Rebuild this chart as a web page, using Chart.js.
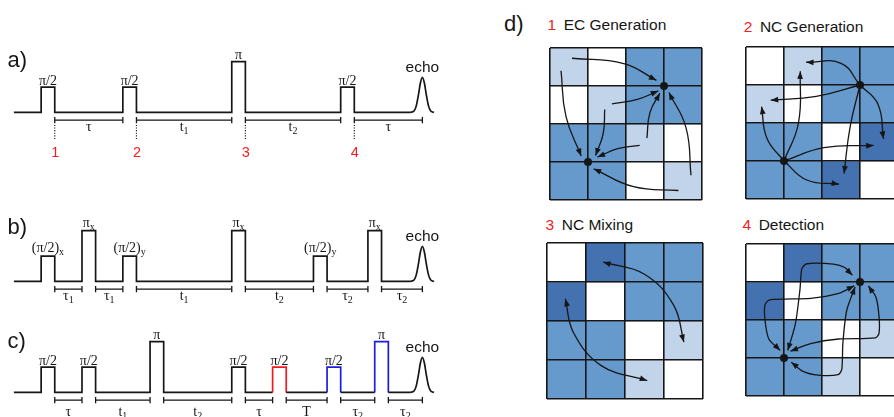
<!DOCTYPE html>
<html>
<head>
<meta charset="utf-8">
<script src="https://cdn.jsdelivr.net/npm/chart.js@4.4.0/dist/chart.umd.min.js"></script>
<style>
html, body { margin: 0; padding: 0; background: #fff; width: 894px; height: 417px; overflow: hidden; position: relative; }
canvas { position: absolute; }
.tag { position: absolute; font: 22px "Liberation Sans", Arial, sans-serif; line-height: 22px; color: #161616; white-space: nowrap; }
.ttl { position: absolute; font: 15.5px "Liberation Sans", Arial, sans-serif; line-height: 15.5px; color: #161616; white-space: nowrap; }
.ttl b { font-weight: normal; color: #ee2222; margin-right: 7.5px; }
</style>
</head>
<body>
<canvas id="seqA" width="470" height="140" style="left:0;top:30px"></canvas>
<canvas id="seqB" width="470" height="140" style="left:0;top:199px"></canvas>
<canvas id="seqC" width="470" height="140" style="left:0;top:310px"></canvas>
<canvas id="gridEC" width="160" height="160" style="left:546px;top:44px"></canvas>
<canvas id="gridNC" width="160" height="160" style="left:742px;top:43px"></canvas>
<canvas id="gridMix" width="160" height="160" style="left:545px;top:241px"></canvas>
<canvas id="gridDet" width="160" height="160" style="left:742px;top:240px"></canvas>

<div class="tag" style="left:7.5px;top:48.9px">a)</div>
<div class="tag" style="left:7.5px;top:216.4px">b)</div>
<div class="tag" style="left:7.5px;top:329.7px">c)</div>
<div class="tag" style="left:504px;top:13.1px">d)</div>
<div class="ttl" style="left:547.6px;top:17.4px"><b>1</b>EC Generation</div>
<div class="ttl" style="left:743.8px;top:19.4px"><b>2</b>NC Generation</div>
<div class="ttl" style="left:545.6px;top:216.9px"><b>3</b>NC Mixing</div>
<div class="ttl" style="left:742.5px;top:216.9px"><b>4</b>Detection</div>

<script>
// Pulse sequences: times in units of one π/2 pulse length, amplitude π/2 = 1
const pulseWidth = 1;
const traceStart = 0;

const pulseStartA = [2, 8, 16, 24];
const pulseAmpA = [1, 1, 2, 1];
const pulseTextA = ['π/2', 'π/2', 'π', 'π/2'];
const delaysA = [[3, 8], [9, 16], [17, 24], [25, 30]];
const delayTextA = ['τ', 't_1', 't_2', 'τ'];
const markersA = [3, 9, 17, 25];
const markerTextA = ['1', '2', '3', '4'];

const pulseStartB = [2, 5, 8, 16, 22, 26];
const pulseAmpB = [1, 2, 1, 2, 1, 2];
const pulseTextB = ['(π/2)_x', 'π_x', '(π/2)_y', 'π_x', '(π/2)_y', 'π_x'];
const delaysB = [[3, 5], [6, 8], [9, 16], [17, 22], [23, 26], [27, 30]];
const delayTextB = ['τ_1', 'τ_1', 't_1', 't_2', 'τ_2', 'τ_2'];

const pulseStartC = [2, 5, 10, 16, 19, 23, 26.5];
const pulseAmpC = [1, 1, 2, 1, 1, 1, 2];
const pulseInkC = ['k', 'k', 'k', 'k', 'r', 'b', 'b'];
const pulseTextC = ['π/2', 'π/2', 'π', 'π/2', 'π/2', 'π/2', 'π'];
const delaysC = [[3, 5], [6, 10], [11, 16], [17, 19], [20, 23], [24, 26.5], [27.5, 30]];
const delayTextC = ['τ', 't_1', 't_2', 'τ', 'T', 'τ_2', 'τ_2'];

// echo envelope
const echoX = [29.1, 29.4, 29.55, 29.7, 29.85, 30, 30.15, 30.3, 30.45, 30.6, 30.85];
const echoY = [0, 0.07, 0.26, 0.66, 1.15, 1.38, 1.15, 0.66, 0.26, 0.07, 0];

// Lattice cells, rows top to bottom: 0 empty, 1 light, 2 medium, 3 dark
const gridCols = ['c1', 'c2', 'c3', 'c4'];
const cellsEC = [[1, 0, 2, 2], [0, 1, 2, 2], [2, 2, 1, 0], [2, 2, 0, 1]];
const cellsNC = [[0, 1, 2, 2], [1, 0, 2, 2], [2, 2, 0, 3], [2, 2, 3, 0]];
const cellsMix = [[0, 3, 2, 2], [3, 0, 2, 2], [2, 2, 0, 1], [2, 2, 1, 0]];
const cellsDet = [[0, 3, 2, 2], [3, 0, 2, 2], [2, 2, 0, 1], [2, 2, 1, 0]];

// lattice sites (column, row) and transfer paths
const sites = [[3, 1], [1, 3]];
const arrowsEC = [
  [[0.58, 0.27], [1.94, 0.41], [2.8, 0.85]],
  [[0.29, 0.6], [0.42, 1.8], [0.82, 2.84]],
  [[1.63, 1.47], [2.3, 1.35], [2.85, 1.13]],
  [[2.55, 2.37], [2.63, 1.7], [2.89, 1.19]],
  [[3.71, 3.35], [3.58, 2.1], [3.13, 1.17]],
  [[1.44, 1.62], [1.4, 2.25], [1.2, 2.83]],
  [[2.36, 2.56], [1.78, 2.65], [1.25, 2.87]],
  [[3.38, 3.75], [2.2, 3.65], [1.15, 3.18]]
];
const arrowsNC = [
  [[3, 1], [2.5, 0.43], [1.58, 0.4]],
  [[3, 1], [1.85, 1.3], [0.65, 1.4]],
  [[3, 1], [2.74, 2.1], [2.58, 3.33]],
  [[3, 1], [3.47, 1.5], [3.62, 2.42]],
  [[1, 3], [0.55, 2.4], [0.41, 1.57]],
  [[1, 3], [1.38, 2.0], [1.43, 0.64]],
  [[1, 3], [2.05, 2.65], [3.36, 2.59]],
  [[1, 3], [1.6, 3.5], [2.45, 3.61]]
];
const arrowsMix = [
  [[1.44, 0.49], [2.5, 0.8], [3.25, 1.6], [3.51, 2.54]],
  [[0.47, 1.43], [0.68, 2.3], [1.4, 3.15], [2.57, 3.53]]
];
const arrowsDet = [
  [[1.1, 2.8], [1.3, 2.1], [1.42, 1.2], [1.47, 0.65], [1.6, 0.52], [2.3, 0.53], [2.6, 0.62], [2.8, 0.82]],
  [[0.9, 2.8], [0.6, 2.5], [0.5, 2.0], [0.5, 1.6], [0.62, 1.47], [1.7, 1.43], [2.44, 1.3], [2.85, 1.1]],
  [[3.22, 1.1], [3.42, 1.4], [3.5, 1.9], [3.5, 2.35], [3.4, 2.47], [2.44, 2.5], [1.7, 2.62], [1.17, 2.82]],
  [[2.87, 1.13], [2.65, 1.75], [2.55, 2.6], [2.52, 3.3], [2.42, 3.44], [1.9, 3.45], [1.5, 3.35], [1.19, 3.11]]
];

const ink = '#161616';
const pulseColors = { k: ink, r: '#ee1c1c', b: '#1c1ce0' };
const shades = ['#ffffff', '#c1d4ea', '#6699cc', '#4472b0'];
const serif = '"Liberation Serif", "Times New Roman", serif';
const sans = '"Liberation Sans", Arial, sans-serif';

// text with an optional subscript after "_", centred on cx
function drawLabel(ctx, text, cx, baseY, size) {
  const [main, sub] = text.split('_');
  ctx.font = size + 'px ' + serif;
  const w1 = ctx.measureText(main).width;
  let w2 = 0;
  if (sub) {
    ctx.font = Math.round(size * 0.7) + 'px ' + serif;
    w2 = ctx.measureText(sub).width;
  }
  const left = cx - (w1 + w2) / 2;
  ctx.textAlign = 'left';
  ctx.font = size + 'px ' + serif;
  ctx.fillText(main, left, baseY);
  if (sub) {
    ctx.font = Math.round(size * 0.7) + 'px ' + serif;
    ctx.fillText(sub, left + w1, baseY + 3);
  }
}

function drawSequence(id, seq) {
  const inks = seq.inks || seq.starts.map(() => 'k');
  const trace = [{ x: traceStart, y: 0 }];
  const segInk = [];
  seq.starts.forEach((s, i) => {
    const c = pulseColors[inks[i]];
    trace.push({ x: s, y: 0 }); segInk.push(ink);
    trace.push({ x: s, y: seq.amps[i] }); segInk.push(c);
    trace.push({ x: s + pulseWidth, y: seq.amps[i] }); segInk.push(c);
    trace.push({ x: s + pulseWidth, y: 0 }); segInk.push(c);
  });
  trace.push({ x: echoX[0], y: 0 }); segInk.push(ink);

  const dimY = -0.3;
  const dims = [];
  seq.delays.forEach(([a, b]) => {
    dims.push({ x: a, y: dimY }, { x: b, y: dimY }, { x: b + 0.5, y: null });
  });

  const datasets = [
    {
      data: trace, borderColor: ink, borderWidth: 1.7, pointRadius: 0, tension: 0,
      borderJoinStyle: 'miter', segment: { borderColor: ctx => segInk[ctx.p0DataIndex] }
    },
    {
      data: echoX.map((x, i) => ({ x, y: echoY[i] })), borderColor: ink, borderWidth: 1.7,
      pointRadius: 0, cubicInterpolationMode: 'monotone'
    },
    {
      data: dims, borderColor: ink, borderWidth: 1.3, spanGaps: false,
      pointStyle: 'line', pointRotation: 90, pointRadius: 3.2,
      pointBorderColor: ink, pointBorderWidth: 1.3
    }
  ];
  if (seq.markers) {
    const dotted = [];
    seq.markers.forEach(m => dotted.push({ x: m, y: -0.49 }, { x: m, y: -1.07 }, { x: m + 0.5, y: null }));
    datasets.push({
      data: dotted, borderColor: ink, borderWidth: 1.2, borderDash: [1.1, 1.5],
      pointRadius: 0, spanGaps: false
    });
  }

  const labels = {
    id: 'seqLabels',
    afterDatasetsDraw(chart) {
      const { ctx, scales: { x, y } } = chart;
      const base = y.getPixelForValue(0);
      ctx.save();
      ctx.textBaseline = 'alphabetic';
      seq.starts.forEach((s, i) => {
        ctx.fillStyle = ink;
        drawLabel(ctx, seq.pulseText[i], x.getPixelForValue(s + pulseWidth / 2),
          y.getPixelForValue(seq.amps[i]) - seq.gap, 14);
      });
      seq.delays.forEach(([a, b], i) => {
        drawLabel(ctx, seq.delayText[i], (x.getPixelForValue(a) + x.getPixelForValue(b)) / 2,
          base + seq.drop, 14);
      });
      const peak = echoY.indexOf(Math.max(...echoY));
      ctx.font = '15.5px ' + sans;
      ctx.textAlign = 'center';
      ctx.fillText('echo', x.getPixelForValue(echoX[peak]), y.getPixelForValue(echoY[peak]) - 5);
      if (seq.markers) {
        ctx.fillStyle = '#f01e1e';
        ctx.font = '14.5px ' + sans;
        seq.markers.forEach((m, i) => {
          ctx.fillText(seq.markerText[i], x.getPixelForValue(m) + 0.5, y.getPixelForValue(-1.75));
        });
      }
      ctx.restore();
    }
  };

  new Chart(document.getElementById(id), {
    type: 'line',
    data: { datasets },
    options: {
      responsive: false, animation: false, events: [],
      layout: { padding: 0 },
      plugins: { legend: { display: false }, tooltip: { enabled: false } },
      scales: {
        x: { type: 'linear', display: false, min: -0.632, max: 33.108 },
        y: { type: 'linear', display: false, min: -2.055, max: 3.036 }
      }
    },
    plugins: [labels]
  });
}

// filled arrowheads at path ends
function arrowHead(ctx, from, tip) {
  const a = Math.atan2(tip.y - from.y, tip.x - from.x);
  const len = 7.5, half = 2.9;
  const bx = tip.x - len * Math.cos(a), by = tip.y - len * Math.sin(a);
  ctx.beginPath();
  ctx.moveTo(tip.x, tip.y);
  ctx.lineTo(bx + half * Math.sin(a), by - half * Math.cos(a));
  ctx.lineTo(bx - half * Math.sin(a), by + half * Math.cos(a));
  ctx.closePath();
  ctx.fill();
}

const arrowHeads = {
  id: 'arrowHeads',
  afterDatasetsDraw(chart) {
    const ctx = chart.ctx;
    chart.data.datasets.forEach((ds, i) => {
      if (!ds.heads) return;
      const pts = chart.getDatasetMeta(i).data;
      const n = pts.length;
      ctx.save();
      ctx.fillStyle = ink;
      arrowHead(ctx, pts[n - 2], pts[n - 1]);
      if (ds.heads === 'both') arrowHead(ctx, pts[1], pts[0]);
      ctx.restore();
    });
  }
};

function drawGrid(id, cells, arrows, heads, dots, bend) {
  const datasets = cells.map(row => ({
    type: 'bar', data: row.map(() => 1), backgroundColor: row.map(k => shades[k]),
    borderWidth: 0, stack: 'cells', grouped: false, order: 3,
    barPercentage: 1, categoryPercentage: 1
  }));
  arrows.forEach(path => datasets.push({
    type: 'line', data: path.map(([x, y]) => ({ x, y })), xAxisID: 'gx', yAxisID: 'gy',
    borderColor: ink, borderWidth: 1.3, pointRadius: 0, tension: bend, heads, order: 2
  }));
  if (dots.length) {
    datasets.push({
      type: 'scatter', data: dots.map(([x, y]) => ({ x, y })), xAxisID: 'gx', yAxisID: 'gy',
      pointRadius: 4, pointBackgroundColor: ink, pointBorderWidth: 0, order: 1
    });
  }
  const gridLines = { color: ink, lineWidth: 1.6, drawTicks: false, offset: false, z: 1 };
  new Chart(document.getElementById(id), {
    type: 'bar',
    data: { labels: gridCols, datasets },
    options: {
      responsive: false, animation: false, events: [],
      layout: { padding: 2 },
      plugins: { legend: { display: false }, tooltip: { enabled: false } },
      scales: {
        x: { display: false, stacked: true },
        y: { display: false, stacked: true, min: 0, max: 4, reverse: true },
        gx: {
          type: 'linear', position: 'bottom', min: 0, max: 4, offset: false,
          ticks: { display: false, stepSize: 1 }, grid: gridLines, border: { display: false }
        },
        gy: {
          type: 'linear', position: 'left', min: 0, max: 4, reverse: true, offset: false,
          ticks: { display: false, stepSize: 1 }, grid: gridLines, border: { display: false }
        }
      }
    },
    plugins: [arrowHeads]
  });
}

drawSequence('seqA', {
  starts: pulseStartA, amps: pulseAmpA, pulseText: pulseTextA,
  delays: delaysA, delayText: delayTextA, markers: markersA, markerText: markerTextA,
  gap: 2.5, drop: 19
});
drawSequence('seqB', {
  starts: pulseStartB, amps: pulseAmpB, pulseText: pulseTextB,
  delays: delaysB, delayText: delayTextB, gap: 4, drop: 19
});
drawSequence('seqC', {
  starts: pulseStartC, amps: pulseAmpC, inks: pulseInkC, pulseText: pulseTextC,
  delays: delaysC, delayText: delayTextC, gap: 2.5, drop: 23.5
});

drawGrid('gridEC', cellsEC, arrowsEC, 'end', sites, 0.45);
drawGrid('gridNC', cellsNC, arrowsNC, 'end', sites, 0.45);
drawGrid('gridMix', cellsMix, arrowsMix, 'both', [], 0.4);
drawGrid('gridDet', cellsDet, arrowsDet, 'both', sites, 0.25);
</script>
</body>
</html>
